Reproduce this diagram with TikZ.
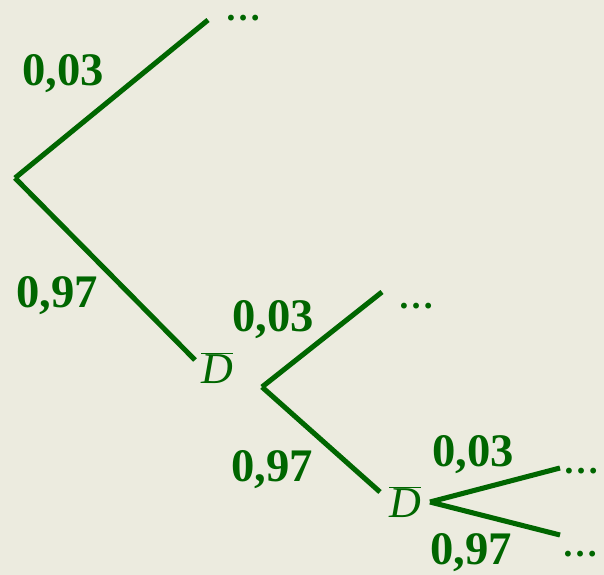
\documentclass[tikz,border=0pt]{standalone}
\usepackage{fontspec}
\setmainfont{Liberation Serif}
\usepackage{tikz}
\usetikzlibrary{positioning}
\definecolor{arbre}{HTML}{006600}
\definecolor{fond}{HTML}{ECEBDF}
\tikzset{
  branche/.style={arbre, line width=3.8pt},
  proba/.style={text=arbre, font=\fontsize{35}{40}\selectfont\bfseries, inner sep=0pt},
  evt/.style={text=arbre, font=\fontsize{33}{38}\selectfont\itshape, inner sep=0pt},
  suite/.style={text=arbre, font=\fontsize{27}{30}\selectfont\bfseries, inner sep=0pt,
    text height=0.15em, text depth=0pt, anchor=south}
}
\newcommand{\nonD}{$\overline{\mbox{\itshape D}}$}
\begin{document}
\begin{tikzpicture}[x=0.75pt,y=-0.75pt]
                  \fill[fond] (0,0) rectangle (604,575);
                  \useasboundingbox (0,0) rectangle (604,575);
                  % premier niveau
                  \coordinate (r0) at (15,178);
                  \coordinate (h1) at (208,20);
                  \coordinate (b1) at (195,360);
                  \node[suite] (s1) at (243,21) {\ldots};
                  \node[evt] (d1) at (217,368) {\nonD};
                  \node[proba] (p1) at (63,74) {0,03};
                  \node[proba] (q1) at (57,296) {0,97};
                  \draw[branche] (r0) -- (h1);
                  \draw[branche] (r0) -- (b1);
                  % deuxieme niveau
                  \coordinate (r1) at (262,387);
                  \coordinate (h2) at (382,292);
                  \coordinate (b2) at (380,492);
                  \node[suite] (s2) at (416,309) {\ldots};
                  \node[evt] (d2) at (405,502) {\nonD};
                  \node[proba] (p2) at (273,320) {0,03};
                  \node[proba] (q2) at (272,470) {0,97};
                  \draw[branche] (r1) -- (h2);
                  \draw[branche] (r1) -- (b2);
                  % troisieme niveau
                  \coordinate (r2) at (430,502);
                  \coordinate (h3) at (560,468);
                  \coordinate (b3) at (560,535);
                  \node[suite] (s3) at (581,474) {\ldots};
                  \node[suite] (s4) at (580,557) {\ldots};
                  \node[proba] (p3) at (473,455) {0,03};
                  \node[proba] (q3) at (471,553) {0,97};
                  \draw[branche] (r2) -- (h3);
                  \draw[branche] (r2) -- (b3);
              \end{tikzpicture}
\end{document}
